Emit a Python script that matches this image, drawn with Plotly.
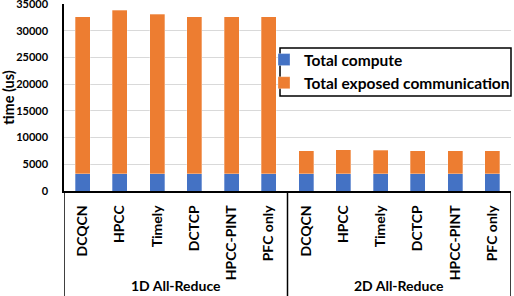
import plotly.graph_objects as go

methods = ["DCQCN", "HPCC", "Timely", "DCTCP", "HPCC-PINT", "PFC only"]
groups = ["1D All-Reduce", "2D All-Reduce"]
categories = methods + methods
compute = [3250, 3250, 3250, 3250, 3250, 3250, 3250, 3250, 3250, 3250, 3250, 3250]
totals = [32600, 33800, 33100, 32600, 32600, 32600, 7550, 7730, 7620, 7550, 7550, 7550]
exposed = [t - c for t, c in zip(totals, compute)]
yticks = [0, 5000, 10000, 15000, 20000, 25000, 30000, 35000]

xs = list(range(len(categories)))
FONT = "Lato"

fig = go.Figure()
fig.add_trace(go.Bar(x=xs, y=compute, name="Total compute",
                     marker=dict(color="#4472C4", line=dict(color="rgba(255,255,255,0.6)", width=0.5))))
fig.add_trace(go.Bar(x=xs, y=exposed, name="Total exposed communication",
                     marker=dict(color="#ED7D31", line=dict(color="rgba(255,255,255,0.6)", width=0.5))))

fig.update_layout(
    barmode="stack", bargap=0.6,
    width=514, height=296,
    margin=dict(l=64, r=3, t=4, b=105, autoexpand=False),
    paper_bgcolor="white", plot_bgcolor="white",
    font=dict(family=FONT, color="black"),
    showlegend=True,
    legend=dict(x=(264 - 64) / 447, y=(191 - 43) / 187, xanchor="left", yanchor="top",
                bgcolor="rgba(0,0,0,0)", borderwidth=0,
                font=dict(family=FONT, size=15.5, color="black", weight="bold"),
                itemwidth=30, tracegroupgap=0, traceorder="normal"),
)
fig.update_xaxes(
    range=[-0.5, 11.5], tickmode="array", tickvals=xs, ticktext=categories,
    tickangle=-90, tickfont=dict(family=FONT, size=14, color="black", weight="bold"),
    showgrid=False, showline=True, linecolor="black", linewidth=1.5,
    ticks="", ticklabelstandoff=7, zeroline=False, automargin=False,
)
fig.update_yaxes(
    range=[0, 35000], tickmode="array", tickvals=yticks, ticktext=[str(v) for v in yticks],
    tickfont=dict(family=FONT, size=11, color="black", weight="bold"),
    showgrid=True, gridcolor="#D9D9D9", gridwidth=1,
    showline=True, linecolor="black", linewidth=1.5,
    ticks="", ticklabelstandoff=12, zeroline=False, automargin=False,
    ticklabeloverflow="allow",
    title=dict(text="time (us)", font=dict(family=FONT, size=14.5, color="black", weight="bold"), standoff=3),
)

# legend frame
fig.add_shape(type="rect", xref="paper", yref="paper",
              x0=(280 - 64) / 447, x1=(511 - 64) / 447,
              y0=(191 - 96) / 187, y1=(191 - 48) / 187,
              fillcolor="white", line=dict(color="black", width=1.5), layer="above")

for xv in [-0.5, 5.5, 11.5]:
    fig.add_shape(type="line", xref="x", yref="paper", x0=xv, x1=xv, y0=0, y1=-0.6,
                  line=dict(color="black", width=1.5))

for i, g in enumerate(groups):
    fig.add_annotation(x=2.5 + 6 * i, y=-0.508, xref="x", yref="paper", text=g,
                       showarrow=False, yanchor="middle",
                       font=dict(family=FONT, size=14, color="black", weight="bold"))

fig.write_html("out.html", config={"displayModeBar": False},
               post_script="document.body.style.margin='0';")
